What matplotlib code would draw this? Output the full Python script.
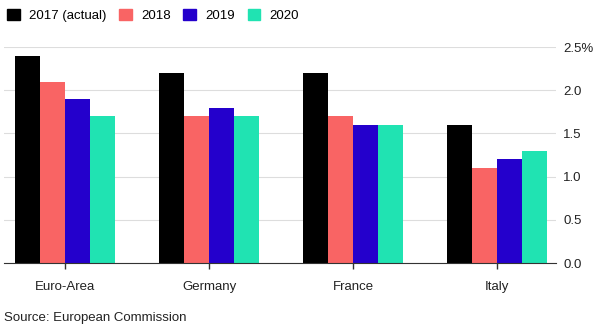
import matplotlib.pyplot as plt
from matplotlib.patches import Patch
import numpy as np

plt.rcParams['font.family'] = ['Liberation Sans', 'DejaVu Sans']

regions = ['Euro-Area', 'Germany', 'France', 'Italy']
years = ['2017 (actual)', '2018', '2019', '2020']
growth_2017 = [2.4, 2.2, 2.2, 1.6]
growth_2018 = [2.1, 1.7, 1.7, 1.1]
growth_2019 = [1.9, 1.8, 1.6, 1.2]
growth_2020 = [1.7, 1.7, 1.6, 1.3]
colors = ['#000000', '#f96464', '#2400cc', '#20e3b2']

series = [growth_2017, growth_2018, growth_2019, growth_2020]

fig = plt.figure(figsize=(6, 3.31), dpi=100)
ax = fig.add_axes([0.007, 0.205, 0.920, 0.653])

x = np.arange(len(regions))
width = 0.173
for i, vals in enumerate(series):
    ax.bar(x + (i - 1.5) * width, vals, width, color=colors[i], zorder=3)

ax.set_xlim(-0.424, 3.41)
ax.set_ylim(0, 2.5)
ax.set_xticks(x)
ax.set_xticklabels(regions, fontsize=9.5)
ax.yaxis.tick_right()
ax.set_yticks([0, 0.5, 1.0, 1.5, 2.0, 2.5])
ax.set_yticklabels(['0.0', '0.5', '1.0', '1.5', '2.0', '2.5%'], fontsize=9.5)
ax.tick_params(axis='y', length=0, pad=5, colors='#222222')
ax.tick_params(axis='x', length=4, width=1, color='#333333', pad=9, labelcolor='#222222')
ax.grid(axis='y', color='#dddddd', linewidth=0.8, zorder=0)
for s in ['top', 'right', 'left']:
    ax.spines[s].set_visible(False)
ax.spines['bottom'].set_color('#333333')
ax.spines['bottom'].set_zorder(4)

handles = [Patch(color=c, label=y) for c, y in zip(colors, years)]
fig.legend(handles=handles, loc='upper left', bbox_to_anchor=(0.012, 0.973), ncol=4,
           frameon=False, fontsize=9.5, handlelength=0.95, handleheight=0.95,
           handletextpad=0.72, columnspacing=0.95, borderpad=0, borderaxespad=0)

fig.text(0.007, 0.03, 'Source: European Commission', fontsize=9.5, color='#222222')

fig.savefig('out.png', dpi=100)
